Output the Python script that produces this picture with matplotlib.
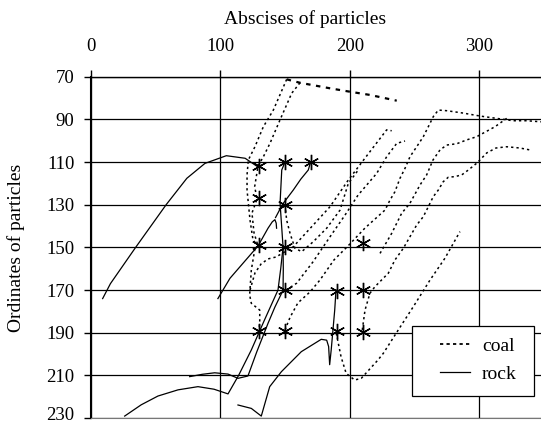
import matplotlib
matplotlib.use('Agg')
import matplotlib.pyplot as plt
from matplotlib.lines import Line2D
from matplotlib.patches import Rectangle
from matplotlib.transforms import ScaledTranslation

plt.rcParams['font.family'] = ['Liberation Serif', 'DejaVu Serif']

# rock trajectories (solid)
rock1_x = [9, 15, 34, 58, 74, 88, 104.5, 119, 129.5]
rock1_y = [174, 167, 150.4, 130, 117.6, 110.6, 107, 108.2, 112.5]
rock2_x = [98, 107.3, 118, 129, 136.7, 140, 142, 143, 143.3]
rock2_y = [174, 164.5, 157, 149.3, 141, 138, 137, 138.6, 141]
rock3_x = [149.8, 147.3, 146, 148.3, 148.5, 148.3, 142, 136.7, 128, 121.2, 113.5, 105.8, 95.5, 86, 76.2]
rock3_y = [110, 113.7, 129.3, 149.7, 160, 170.1, 178, 185.6, 199, 210.3, 211.4, 209.4, 208.8, 209.5, 210.6]
rock4_x = [148.3, 146.5, 144.4, 134, 123.8, 114, 105.8, 95, 82.6, 67.2, 51.7, 38.8, 26]
rock4_y = [150, 160, 170, 184, 198.1, 210, 218.7, 216.5, 215.3, 216.8, 219.7, 223.8, 229.1]
rock5_x = [142.5, 146, 148.5, 156.2, 162, 167.8, 169.3]
rock5_y = [136, 132, 129.3, 123.1, 118, 113.7, 110.6]
rock6_x = [113.5, 123.8, 131.5, 138, 147, 162.4, 177.8, 182, 183.5, 184.3, 185.5, 188.2, 189.2]
rock6_y = [223.9, 225.5, 229.1, 215.3, 208.3, 198.9, 193.1, 193.5, 196.5, 205, 198, 179.4, 170]

# coal trajectories (dotted)
coal_top_x = [151.1, 161.4, 184.6, 200.0, 215.4, 236.1]
coal_top_y = [71.2, 72.8, 75.4, 77.0, 78.5, 81.2]
coal1_x = [151.1, 140.8, 133.1, 126.6, 121.5, 120.5, 120.5, 122.8, 125.1, 129.0, 126.4, 123.8, 122.5, 123.8, 130.3, 130.3, 129.7]
coal1_y = [71.2, 85.6, 93.4, 102.8, 109.0, 116.0, 123.1, 137.2, 146.5, 149.3, 151.2, 160.6, 172.3, 176.2, 179.4, 185.6, 188.7]
coal2_x = [161.4, 155.0, 145.9, 138.2, 133.1, 129.0, 126.4, 128.2, 124.3, 125.9, 129.0]
coal2_y = [72.8, 77.7, 90.3, 101.2, 107.5, 111.8, 121.5, 127.3, 133.9, 143.2, 149.3]
coal3_x = [122.8, 126.6, 131.3, 136.7, 142.9, 156.2, 184.6, 198.7, 215.4, 228.3, 232.2]
coal3_y = [170.0, 162.0, 157.8, 155.4, 154.5, 149.7, 130.9, 118.4, 105.1, 94.9, 95.3]
coal4_x = [149.8, 151.1, 153.7, 157.5, 162.7, 171.7, 182.0, 192.3, 198.7, 206.4]
coal4_y = [130.1, 137.2, 143.4, 150.4, 152.0, 147.3, 141.0, 132.5, 120.0, 113.7]
coal5_x = [150.6, 158.8, 171.4, 184.6, 196.1, 206.2, 220.6, 228.3, 236.1, 242.5]
coal5_y = [170.0, 166.8, 156.8, 145.0, 134.9, 125.5, 115.3, 107.5, 101.2, 100.1]
coal6_x = [149.8, 153.7, 159.8, 169.1, 176.8, 187.6, 198.5, 211.6, 227.0, 230.9, 234.7, 238.6, 242.5,
           246.3, 251.5, 256.6, 261.8, 264.3, 268.2, 274.7, 287.3, 300.4, 313.3, 325.9, 336.4, 347.5]
coal6_y = [188.7, 182.8, 176.0, 170.9, 165.3, 155.9, 149.3, 140.9, 132.5, 127.8, 123.9, 117.6, 112.9,
           107.5, 102.8, 98.1, 91.8, 88.7, 85.6, 85.9, 87.0, 88.4, 89.5, 90.6, 90.6, 91.1]
coal7_x = [223.2, 232.2, 239.9, 246.3, 254.1, 259.2, 264.1, 269.5, 274.7, 282.4, 290.1, 297.8, 312.0, 321.0]
coal7_y = [152.8, 143.4, 134.0, 129.3, 120.7, 116.0, 109.0, 104.3, 102.0, 101.4, 99.6, 98.1, 93.4, 89.5]
coal8_x = [209.5, 211.6, 215.4, 219.3, 229.6, 234.7, 241.2, 246.3, 251.5, 256.6, 260.5, 264.3, 268.2,
           272.0, 275.9, 281.1, 286.3, 291.4, 298.1, 305.6, 312.7, 321.0, 331.3, 339.0]
coal8_y = [188.7, 179.4, 171.5, 168.4, 162.1, 155.9, 150.4, 145.0, 139.5, 135.6, 130.9, 126.2, 123.1,
           119.2, 117.1, 116.8, 116.0, 113.7, 110.4, 105.7, 103.4, 102.8, 103.4, 104.3]
coal9_x = [189.4, 193.1, 197.0, 203.6, 208.7, 221.6, 225.7, 237.3, 248.9, 261.8, 273.4, 284.9]
coal9_y = [190.3, 201.3, 209.0, 212.2, 211.4, 202.8, 199.7, 188.7, 177.8, 165.3, 155.0, 142.6]

# measurement points (asterisks)
star_x = [130, 150, 170, 130, 150, 130, 150, 210, 150, 190, 210, 130, 150, 190, 210]
star_y = [112, 110, 110, 127, 130, 149, 150, 148, 170, 170.5, 170, 189, 189, 189, 189.5]

fig = plt.figure(figsize=(5.41, 4.25), dpi=100)
ax = fig.add_axes([91 / 541, 1 - 418 / 425, 450 / 541, 341.2 / 425])

dot = (0, (1.5, 2.0))
coal_style = dict(color='black', linestyle=dot, linewidth=1.1)
rock_style = dict(color='black', linestyle='-', linewidth=0.9)

for xs, ys in [(coal1_x, coal1_y), (coal2_x, coal2_y), (coal3_x, coal3_y), (coal4_x, coal4_y),
               (coal5_x, coal5_y), (coal6_x, coal6_y), (coal7_x, coal7_y), (coal8_x, coal8_y),
               (coal9_x, coal9_y)]:
    ax.plot(xs, ys, **coal_style)
ax.plot(coal_top_x, coal_top_y, color='black', linestyle=(0, (2, 2.5)), linewidth=1.6)

for xs, ys in [(rock1_x, rock1_y), (rock2_x, rock2_y), (rock3_x, rock3_y), (rock4_x, rock4_y),
               (rock5_x, rock5_y), (rock6_x, rock6_y)]:
    ax.plot(xs, ys, **rock_style)

ax.plot(star_x, star_y, linestyle='none', marker=(6, 2, 0), markersize=11,
        markeredgewidth=1.0, color='black')

ax.set_xlim(0, 347.5)
ax.set_ylim(230, 70)
ax.set_xticks([0, 100, 200, 300])
ax.set_yticks(range(70, 231, 20))
ax.xaxis.tick_top()
ax.xaxis.set_label_position('top')
ax.tick_params(axis='x', direction='out', length=5, width=1, pad=10.5, labelsize=13.5)
ax.tick_params(axis='y', direction='out', length=5, width=1, pad=7, labelsize=13.5)
# lift the bottom label a little so it stays inside the picture
last = ax.get_yticklabels()[-1]
last.set_transform(last.get_transform() + ScaledTranslation(0, 3 / 72, fig.dpi_scale_trans))
ax.grid(True, color='black', linewidth=0.9)
ax.set_axisbelow(True)

ax.spines['right'].set_visible(False)
ax.spines['left'].set_linewidth(1.5)
ax.spines['top'].set_linewidth(1.0)
ax.spines['bottom'].set_color('#777777')

ax.set_xlabel('Abscises of particles', fontsize=14)
ax.xaxis.set_label_coords(0.476, 1.155)
ax.set_ylabel('Ordinates of particles', fontsize=14)
ax.yaxis.set_label_coords(-0.147, 0.5)

# legend box (opaque, square)
ax.add_patch(Rectangle((0.714, 0.0636), 0.270, 0.207, transform=ax.transAxes,
                       facecolor='white', edgecolor='black', linewidth=0.9, zorder=5))
handles = [Line2D([], [], color='black', linestyle=(0, (1.8, 1.8)), linewidth=1.3),
           Line2D([], [], color='black', linestyle='-', linewidth=0.9)]
leg = ax.legend(handles, ['coal', 'rock'], loc='center left', bbox_to_anchor=(0.7756, 0.170),
                fontsize=14, frameon=False, handlelength=1.54, handletextpad=0.62,
                borderpad=0, labelspacing=0.55, borderaxespad=0)
leg.set_zorder(6)

fig.savefig('out.png', dpi=100)
